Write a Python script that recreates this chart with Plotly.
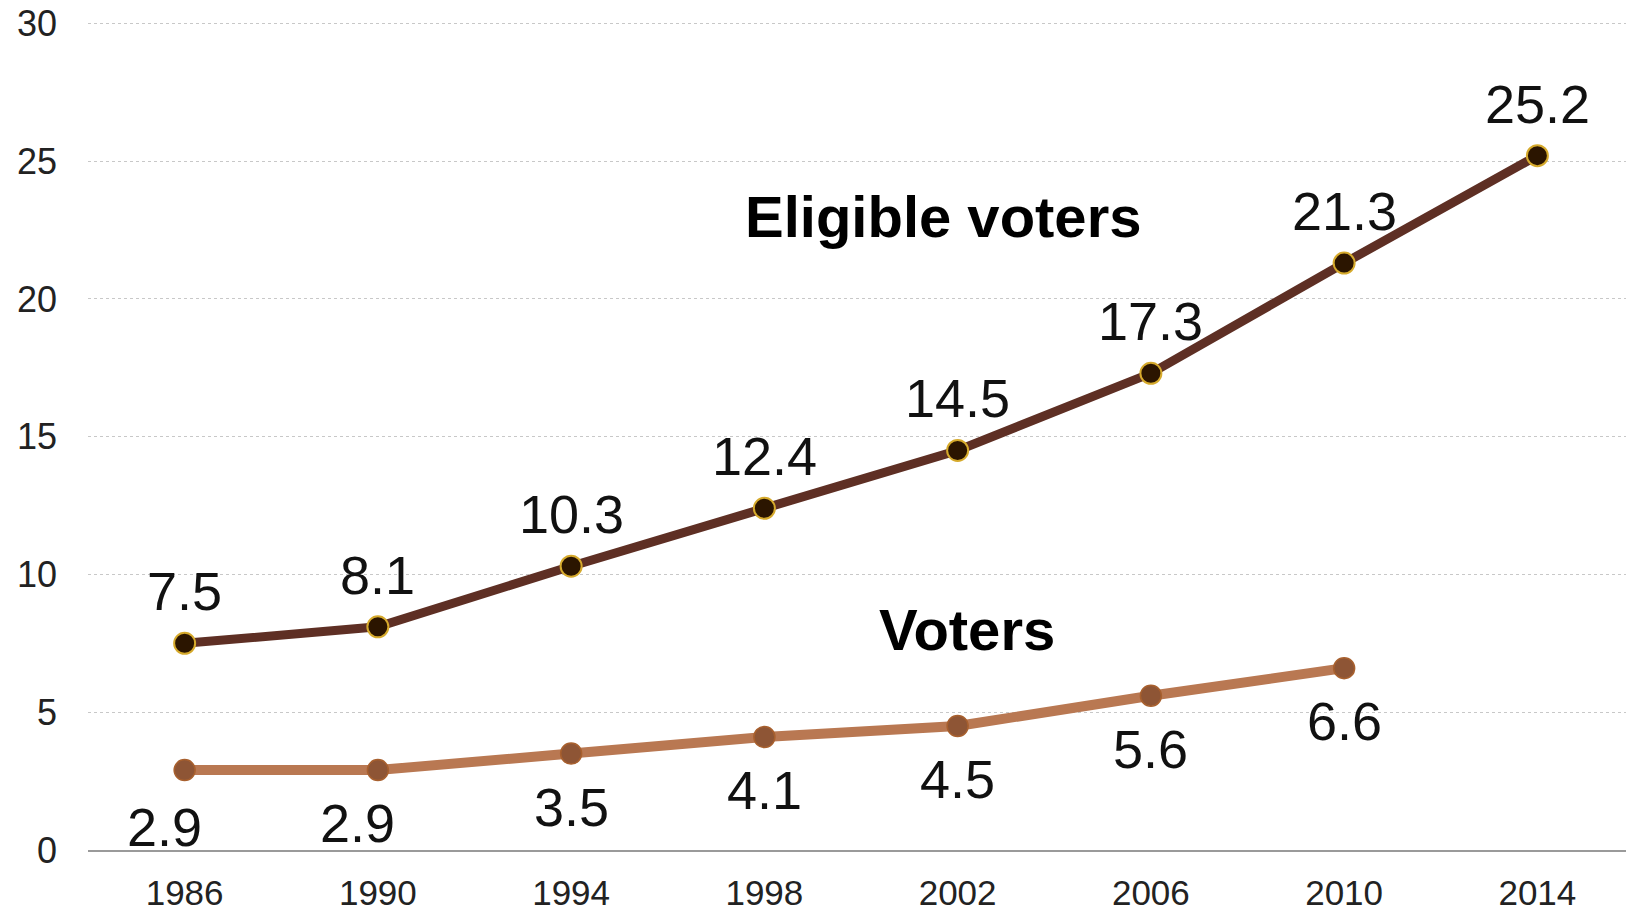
import plotly.graph_objects as go

years = [1986, 1990, 1994, 1998, 2002, 2006, 2010, 2014]
eligible = [7.5, 8.1, 10.3, 12.4, 14.5, 17.3, 21.3, 25.2]
voter_years = [1986, 1990, 1994, 1998, 2002, 2006, 2010]
voters = [2.9, 2.9, 3.5, 4.1, 4.5, 5.6, 6.6]
y_ticks = [0, 5, 10, 15, 20, 25, 30]

FONT = "Liberation Sans, Arial, sans-serif"
LABEL_FONT = dict(family=FONT, size=54, color="#111111")

fig = go.Figure()
fig.add_trace(go.Scatter(
    x=years, y=eligible, mode="lines+markers",
    line=dict(color="#5E2F24", width=9),
    marker=dict(size=21, color="#2B1500", line=dict(color="#D6AA2C", width=2)),
    cliponaxis=False, showlegend=False, hoverinfo="skip"))
fig.add_trace(go.Scatter(
    x=voter_years, y=voters, mode="lines+markers",
    line=dict(color="#B97852", width=10),
    marker=dict(size=21, color="#8E5535", line=dict(color="#A8602E", width=1.5)),
    cliponaxis=False, showlegend=False, hoverinfo="skip"))

annotations = []
for x, v in zip(years, eligible):
    annotations.append(dict(x=x, y=v, xref="x", yref="y", text=f"{v:.1f}",
                            showarrow=False, font=LABEL_FONT,
                            xanchor="center", yanchor="middle", yshift=52))
for i, (x, v) in enumerate(zip(voter_years, voters)):
    xs = -20 if i < 2 else 0
    ys = -57 if i == 0 else -53
    annotations.append(dict(x=x, y=v, xref="x", yref="y", text=f"{v:.1f}",
                            showarrow=False, font=LABEL_FONT,
                            xanchor="center", yanchor="middle", yshift=ys, xshift=xs))

annotations.append(dict(x=2001.7, y=23.0, xref="x", yref="y", text="<b>Eligible voters</b>",
                        showarrow=False, xanchor="center", yanchor="middle",
                        font=dict(family=FONT, size=58, color="#000000")))
annotations.append(dict(x=2002.2, y=8.0, xref="x", yref="y", text="<b>Voters</b>",
                        showarrow=False, xanchor="center", yanchor="middle",
                        font=dict(family=FONT, size=58, color="#000000")))

# the page body has an 8px default margin, so the figure is offset by 8px
fig.update_layout(
    width=1626, height=904,
    margin=dict(l=80, r=0, t=14, b=62, autoexpand=False),
    plot_bgcolor="white", paper_bgcolor="white",
    annotations=annotations,
    xaxis=dict(range=[1984, 2016], tickmode="array", tickvals=years,
               ticktext=[str(y) for y in years],
               showgrid=False, zeroline=False,
               showline=True, linecolor="#9A9A9A", linewidth=2,
               tickfont=dict(family=FONT, size=35, color="#222222"),
               ticklabelstandoff=11, ticklabeloverflow="allow",
               automargin=False, fixedrange=True),
    yaxis=dict(range=[0, 30.05], tickmode="array", tickvals=y_ticks,
               ticktext=[str(t) for t in y_ticks],
               showgrid=True, gridcolor="#C8C8C8", gridwidth=1, griddash="dot",
               zeroline=False, showline=False,
               tickfont=dict(family=FONT, size=36, color="#222222"),
               ticklabelstandoff=30, ticklabeloverflow="allow",
               automargin=False, fixedrange=True),
)

fig.write_html("out.html")
